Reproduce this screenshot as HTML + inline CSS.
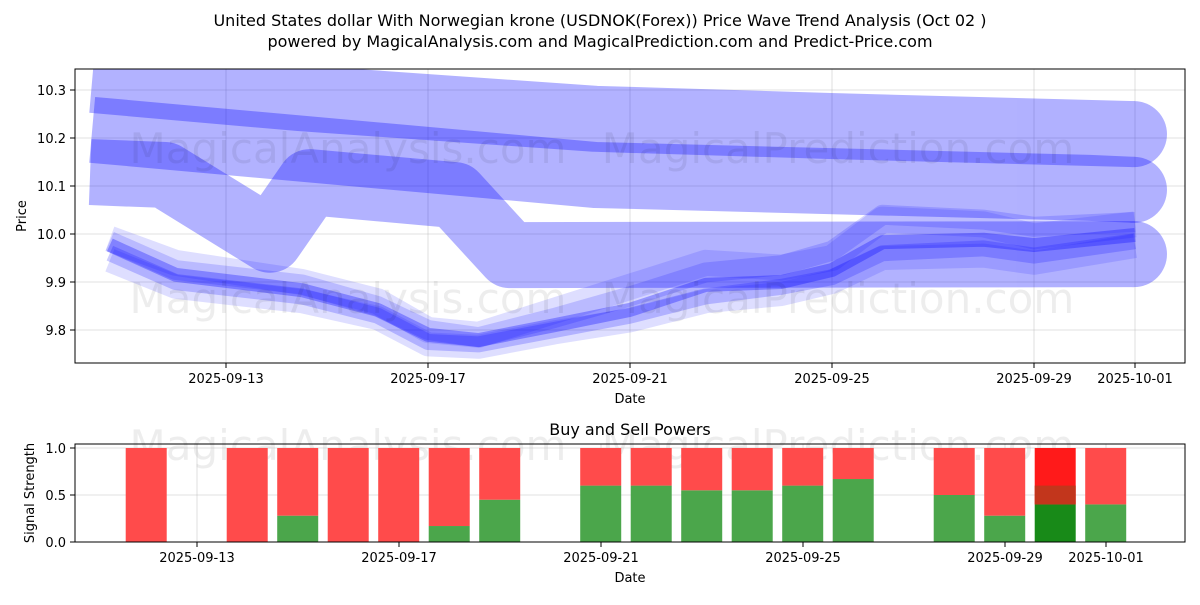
<!DOCTYPE html>
<html><head><meta charset="utf-8"><style>
body{margin:0;background:#fff;width:1200px;height:600px;overflow:hidden;font-family:"Liberation Sans","DejaVu Sans",sans-serif}
svg text{font-family:"DejaVu Sans","Liberation Sans",sans-serif}
</style></head><body>
<svg id="chart" width="1200" height="600" xmlns="http://www.w3.org/2000/svg">
<text x="600" y="26" font-size="16" text-anchor="middle">United States dollar With Norwegian krone (USDNOK(Forex)) Price Wave Trend Analysis (Oct 02 )</text>
<text x="600" y="47" font-size="16" text-anchor="middle">powered by MagicalAnalysis.com and MagicalPrediction.com and Predict-Price.com</text>
<defs><clipPath id="topclip"><rect x="75" y="69" width="1110" height="294"/></clipPath><clipPath id="botclip"><rect x="75" y="444" width="1110" height="98"/></clipPath></defs>
<g id="topgrid"></g>
<g id="topmarks" clip-path="url(#topclip)"></g>
<text x="348" y="163" font-size="42" fill="#000" fill-opacity="0.07" text-anchor="middle">MagicalAnalysis.com</text>
<text x="838" y="163" font-size="42" fill="#000" fill-opacity="0.07" text-anchor="middle">MagicalPrediction.com</text>
<text x="348" y="313" font-size="42" fill="#000" fill-opacity="0.07" text-anchor="middle">MagicalAnalysis.com</text>
<text x="838" y="313" font-size="42" fill="#000" fill-opacity="0.07" text-anchor="middle">MagicalPrediction.com</text>
<text x="348" y="460" font-size="42" fill="#000" fill-opacity="0.07" text-anchor="middle">MagicalAnalysis.com</text>
<text x="838" y="460" font-size="42" fill="#000" fill-opacity="0.07" text-anchor="middle">MagicalPrediction.com</text>
<rect x="75" y="69" width="1110" height="294" fill="none" stroke="#000" stroke-width="1"/>
<g id="topaxes"></g>
<text x="630" y="403" font-size="13" text-anchor="middle">Date</text>
<text x="26" y="216" font-size="13" text-anchor="middle" transform="rotate(-90 26 216)">Price</text>
<text x="630" y="435" font-size="16" text-anchor="middle">Buy and Sell Powers</text>
<g id="botgrid"></g>
<g id="botmarks" clip-path="url(#botclip)"></g>
<rect x="75" y="444" width="1110" height="98" fill="none" stroke="#000" stroke-width="1"/>
<g id="botaxes"></g>
<text x="630" y="582" font-size="13" text-anchor="middle">Date</text>
<text x="34" y="493" font-size="13" text-anchor="middle" transform="rotate(-90 34 493)">Signal Strength</text>
</svg>
<script>
// ---- data (day = day of Sept 2025; Oct 1 = 31) ----
const xTickDays = [13, 17, 21, 25, 29, 31];
const xTickLabels = ["2025-09-13","2025-09-17","2025-09-21","2025-09-25","2025-09-29","2025-10-01"];
const yTicks = [9.8, 9.9, 10.0, 10.1, 10.2, 10.3];
const powTicks = [0.0, 0.5, 1.0];

const bandADays = [10.35, 14.47, 20.31, 24.96, 30.98];
const bandAPrices = [10.321, 10.283, 10.240, 10.225, 10.208];
const bandBDays = [10.35, 20.31, 30.1, 30.98];
const bandBPrices = [10.217, 10.123, 10.096, 10.092];
const bandCDays = [10.31, 11.79, 13.87, 14.66, 17.53, 18.62, 30.98];
const bandCPrices = [10.129, 10.123, 9.988, 10.108, 10.081, 9.956, 9.958];

const waveDays = [10.7, 12, 14.5, 16, 17, 18, 19.5, 21, 22.5, 24, 25, 26, 28, 29, 31];
const wave1 = [9.977, 9.915, 9.883, 9.842, 9.790, 9.779, 9.810, 9.842, 9.894, 9.900, 9.925, 9.983, 9.988, 9.977, 9.998];
const wave2 = [9.990, 9.940, 9.900, 9.860, 9.800, 9.790, 9.840, 9.890, 9.940, 9.930, 9.950, 10.030, 10.020, 9.995, 10.020];
const wave3 = [9.960, 9.900, 9.870, 9.830, 9.775, 9.770, 9.800, 9.830, 9.870, 9.890, 9.910, 9.960, 9.970, 9.955, 9.985];
const wave4 = [9.985, 9.925, 9.895, 9.850, 9.800, 9.785, 9.825, 9.870, 9.920, 9.935, 9.965, 10.040, 10.030, 10.015, 10.025];
const wave5 = [9.945, 9.890, 9.860, 9.825, 9.770, 9.765, 9.795, 9.820, 9.860, 9.875, 9.900, 9.950, 9.955, 9.940, 9.975];

const barDays = [11, 13, 14, 15, 16, 17, 18, 20, 21, 22, 23, 24, 25, 27, 28, 29, 30];
const buyPower = [0, 0, 0.28, 0, 0, 0.17, 0.45, 0.6, 0.6, 0.55, 0.55, 0.6, 0.67, 0.5, 0.28, 0.4, 0.4];
const sellPower = buyPower.map(v => 1 - v);

// ---- axes ----
const ns = "http://www.w3.org/2000/svg";
const xs = d => 226 + (d - 13) * 50.5;
const xb = d => 197 + (d - 13) * 50.5;
const ys = p => 234 - (p - 10.0) * 480;
const yb = v => 542 - v * 94;
function mk(tag, attrs, parent) { const e = document.createElementNS(ns, tag); for (const k in attrs) e.setAttribute(k, attrs[k]); (typeof parent === "string" ? document.getElementById(parent) : parent).appendChild(e); return e; }

xTickDays.forEach((d, i) => {
  const g1 = mk("line", {x1: xs(d), x2: xs(d), y1: 69, y2: 363, stroke: "#b0b0b0", "stroke-opacity": 0.5, "stroke-width": 0.8}, "topgrid");
  
  
  const t1 = mk("line", {x1: xs(d), x2: xs(d), y1: 363, y2: 368, stroke: "#000"}, "topaxes");
  
  
  const l1 = mk("text", {x: xs(d), y: 383, "font-size": 13, "text-anchor": "middle"}, "topaxes");
  l1.textContent = xTickLabels[i];
  
  
  const g2 = mk("line", {x1: xb(d), x2: xb(d), y1: 444, y2: 542, stroke: "#b0b0b0", "stroke-opacity": 0.5, "stroke-width": 0.8}, "botgrid");
  
  
  const t2 = mk("line", {x1: xb(d), x2: xb(d), y1: 542, y2: 547, stroke: "#000"}, "botaxes");
  
  
  const l2 = mk("text", {x: xb(d), y: 562, "font-size": 13, "text-anchor": "middle"}, "botaxes");
  l2.textContent = xTickLabels[i];
  
  
});
yTicks.forEach(p => {
  const g = mk("line", {x1: 75, x2: 1185, y1: ys(p), y2: ys(p), stroke: "#b0b0b0", "stroke-opacity": 0.5, "stroke-width": 0.8}, "topgrid");
  
  
  const t = mk("line", {x1: 70, x2: 75, y1: ys(p), y2: ys(p), stroke: "#000"}, "topaxes");
  
  
  const l = mk("text", {x: 66, y: ys(p) + 5, "font-size": 13, "text-anchor": "end"}, "topaxes");
  l.textContent = p.toFixed(1);
  
  
});
powTicks.forEach(v => {
  const g = mk("line", {x1: 75, x2: 1185, y1: yb(v), y2: yb(v), stroke: "#b0b0b0", "stroke-opacity": 0.5, "stroke-width": 0.8}, "botgrid");
  
  
  const t = mk("line", {x1: 70, x2: 75, y1: yb(v), y2: yb(v), stroke: "#000"}, "botaxes");
  
  
  const l = mk("text", {x: 66, y: yb(v) + 5, "font-size": 13, "text-anchor": "end"}, "botaxes");
  l.textContent = v.toFixed(1);
  
  
});

// ---- wide bands (group opacity so cap does not double) ----
function band(days, prices, width, op, name) {
  const g = mk("g", {opacity: op}, "topmarks");
  
  
  const pts = days.map((d, i) => xs(d) + "," + ys(prices[i])).join(" ");
  const pl = mk("polyline", {points: pts, fill: "none", stroke: "#0000ff", "stroke-width": width, "stroke-linejoin": "round"}, g);
  
  
  const n = days.length - 1;
  const c = mk("circle", {cx: xs(days[n]), cy: ys(prices[n]), r: width / 2, fill: "#0000ff"}, g);
  
  
}
band(bandADays, bandAPrices, 66, 0.3, "wave-band-a");
band(bandBDays, bandBPrices, 66, 0.3, "wave-band-b");
band(bandCDays, bandCPrices, 66, 0.3, "wave-band-c");

// ---- thin waves ----
[[wave2, 26, 0.13], [wave4, 20, 0.16], [wave5, 24, 0.13], [wave3, 16, 0.2], [wave1, 14, 0.3]].forEach(([w, sw, op]) => {
  const pts = waveDays.map((d, i) => xs(d) + "," + ys(w[i])).join(" ");
  const pl = mk("polyline", {points: pts, fill: "none", stroke: "#0000ff", "stroke-opacity": op, "stroke-width": sw, "stroke-linejoin": "round"}, "topmarks");
  
  
});

// ---- power bars ----
barDays.forEach((d, i) => {
  const cx = xs(d + 0.42), w = 41;
  const special = d === 29;
  const b = mk("rect", {x: cx - w / 2, y: yb(buyPower[i]), width: w, height: yb(0) - yb(buyPower[i]), fill: special ? "#188a18" : "#4ba64b"}, "botmarks");
  
  
  const s = mk("rect", {x: cx - w / 2, y: yb(1), width: w, height: yb(buyPower[i]) - yb(1), fill: special ? "#ff1a1a" : "#ff4b4b"}, "botmarks");
  
  
  if (special) {
    const m = mk("rect", {x: cx - w / 2, y: yb(0.6), width: w, height: yb(buyPower[i]) - yb(0.6), fill: "#c2361c"}, "botmarks");
    
    
  }
});
</script>
</body></html>
